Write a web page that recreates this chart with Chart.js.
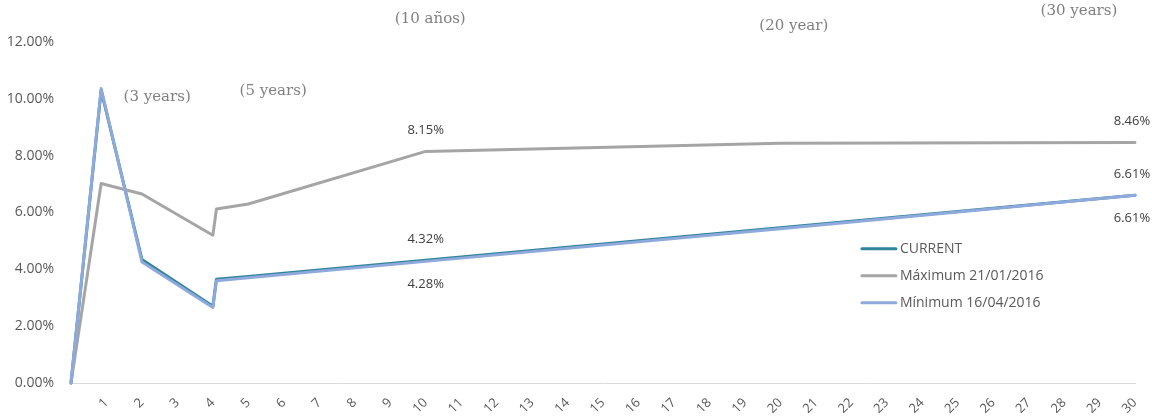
<!DOCTYPE html>
<html>
<head>
<meta charset="utf-8">
<script src="https://cdn.jsdelivr.net/npm/chart.js@4"></script>
<style>
  html, body { margin: 0; padding: 0; background: #ffffff; }
  #wrap { width: 1161px; height: 417px; position: relative; }
</style>
</head>
<body>
<div id="wrap"><canvas id="c" width="1161" height="417"></canvas></div>
<script>
// ---- data (years to maturity, yield %) ----
const maturities   = [0, 0.85, 2, 4, 4.1, 5, 10, 20, 30];
const currentCurve = [0, 10.30, 4.35, 2.70, 3.65, 3.75, 4.32, 5.46, 6.61];
const maximumCurve = [0, 7.02, 6.65, 5.20, 6.12, 6.30, 8.15, 8.44, 8.46];
const minimumCurve = [0, 10.36, 4.26, 2.66, 3.60, 3.70, 4.28, 5.43, 6.61];
const seriesNames  = ['CURRENT', 'Máximum 21/01/2016', 'Mínimum 16/04/2016'];
const labelledMaturities = [10, 30];
const termNotes   = ['(3 years)', '(5 years)', '(10 años)', '(20 year)', '(30 years)'];
const termNoteX   = [2.43, 5.7, 10.13, 20.38, 28.42];
const termNoteY   = [10.06, 10.27, 12.81, 12.56, 13.09];

const colors = ['#31849B', '#A5A5A5', '#8EA9DB'];

function pts(vals) { return maturities.map((m, i) => ({ x: m, y: vals[i] })); }

const overlay = {
  id: 'overlay',
  afterDatasetsDraw(chart) {
    const ctx = chart.ctx, xs = chart.scales.x, ys = chart.scales.y;
    ctx.save();
    // data labels
    ctx.font = '13px "Open Sans"';
    ctx.fillStyle = '#404040';
    ctx.textAlign = 'center';
    ctx.textBaseline = 'middle';
    const sets = [
      { vals: currentCurve, dy: -21 },
      { vals: maximumCurve, dy: -21 },
      { vals: minimumCurve, dy: 23 }
    ];
    sets.forEach(s => {
      labelledMaturities.forEach(m => {
        const i = maturities.indexOf(m);
        const v = s.vals[i];
        let px = xs.getPixelForValue(m);
        if (m === 30) px -= 3;
        ctx.fillText(v.toFixed(2) + '%', px, ys.getPixelForValue(v) + s.dy);
      });
    });
    // term notes
    ctx.font = '15px "DejaVu Serif"';
    ctx.fillStyle = '#7F7F7F';
    termNotes.forEach((t, i) => {
      ctx.fillText(t, xs.getPixelForValue(termNoteX[i]), ys.getPixelForValue(termNoteY[i]));
    });
    // legend
    const lx = xs.getPixelForValue(22.3), ly0 = ys.getPixelForValue(4.72);
    ctx.font = '14px "Open Sans"';
    ctx.fillStyle = '#595959';
    ctx.textAlign = 'left';
    chart.data.datasets.forEach((ds, i) => {
      const y = ly0 + i * 27;
      ctx.strokeStyle = ds.borderColor;
      ctx.lineWidth = 3;
      ctx.lineCap = 'round';
      ctx.beginPath();
      ctx.moveTo(lx, y);
      ctx.lineTo(lx + 34, y);
      ctx.stroke();
      ctx.fillText(ds.label, lx + 38, y);
    });
    ctx.restore();
  }
};

new Chart(document.getElementById('c'), {
  type: 'line',
  data: {
    datasets: [
      { label: seriesNames[0], data: pts(currentCurve), borderColor: colors[0], order: 3 },
      { label: seriesNames[1], data: pts(maximumCurve), borderColor: colors[1], order: 2 },
      { label: seriesNames[2], data: pts(minimumCurve), borderColor: colors[2], order: 1 }
    ]
  },
  options: {
    responsive: false,
    animation: false,
    datasets: { line: { borderWidth: 3, pointRadius: 0, tension: 0, fill: false,
      borderJoinStyle: 'round', borderCapStyle: 'round', clip: false } },
    layout: { padding: { top: 42, right: 26, left: 0, bottom: 0 } },
    plugins: { legend: { display: false }, tooltip: { enabled: false } },
    scales: {
      x: {
        type: 'linear', min: 0, max: 30,
        grid: { display: false },
        border: { display: true, color: '#D9D9D9', width: 1 },
        ticks: {
          stepSize: 1, autoSkip: false, minRotation: 45, maxRotation: 45,
          color: '#595959', font: { family: 'Open Sans', size: 13 }, padding: 4,
          callback: v => (v === 0 ? '' : String(v))
        },
        afterFit: s => { s.height = 34; }
      },
      y: {
        min: 0, max: 12,
        grid: { display: false },
        border: { display: false },
        ticks: {
          stepSize: 2, color: '#595959', font: { family: 'Open Sans', size: 14 }, padding: 9,
          callback: v => v.toFixed(2) + '%'
        },
        afterFit: s => { s.width = 71; }
      }
    }
  },
  plugins: [overlay]
});
</script>
</body>
</html>
